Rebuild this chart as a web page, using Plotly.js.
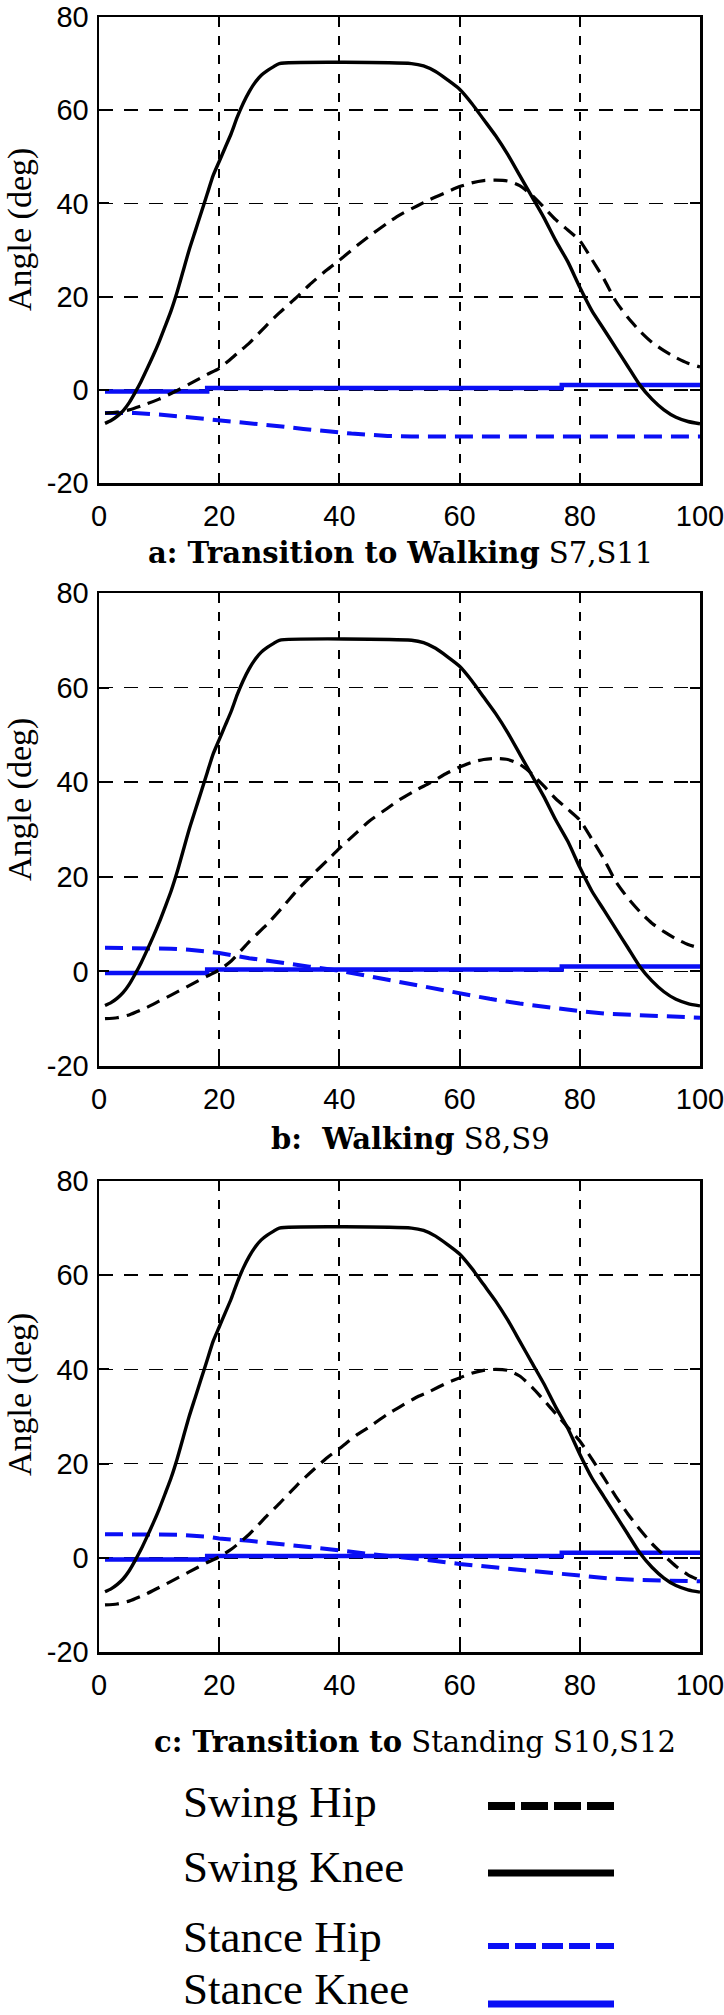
<!DOCTYPE html>
<html>
<head>
<meta charset="utf-8">
<script src="https://cdn.plot.ly/plotly-3.0.1.min.js"></script>
<style>
  html, body { margin: 0; padding: 0; background: #ffffff; }
  #chart { width: 724px; height: 2015px; }
</style>
</head>
<body>
<div id="chart"></div>
<script>
// ---------------- DATA ----------------
// x axis: percent of step (0-100); y axis: joint angle in degrees
const xTicks = [0, 20, 40, 60, 80, 100];
const yTicks = [-20, 0, 20, 40, 60, 80];
const seriesNames = ["Swing Hip", "Swing Knee", "Stance Hip", "Stance Knee"];
const panelTitles = [
  "<b>a: Transition to Walking</b> S7,S11",
  "<b>b:  Walking</b> S8,S9",
  "<b>c: Transition to</b> Standing S10,S12"
];
const yAxisTitle = "Angle (deg)";

// Swing knee (same profile in the three panels)
const kneeX = [1,2,3,4,5,6,7,8,9,10,11,12,13,14,15,16,17,18,19,20,21,22,23,24,25,26,27,28,29,30,
               52,54,56,58,60,62,64,66,68,70,72,74,76,78,80,82,84,86,88,90,92,94,96,98,100];
const kneeY = [-7.2,-6.6,-5.7,-4.5,-2.8,-0.6,1.8,4.5,7.3,10.3,13.6,17,21,25.5,30,34,38,42,46,49,
               52,55,58.5,61.5,64,66,67.5,68.5,69.3,70,
               70,69.5,68.3,66.5,64.5,61.5,58,54.5,50.5,46,41.5,37,32,27.5,22,17,13,9,5,1,-2,-4.3,-5.9,-6.8,-7.3];

// Stance knee (same in the three panels, stepwise)
const stKneeX = [1, 18, 77, 100];
const stKneeY = [-0.35, 0.4, 1.05, 1.05];

// Panel a: Transition to Walking
const hipAX = [1,3,5,8,10,12,15,18,20,23,25,28,30,33,35,38,40,43,45,48,50,53,55,58,60,62,64,66,68,70,
               72,74,76,78,80,82,84,86,88,90,92,94,96,98,100];
const hipAY = [-5,-4.8,-4.3,-3,-2,-0.8,1.2,3.3,4.6,7.8,10,14,16.5,20,22.5,25.8,27.8,31,33,35.8,37.5,39.5,40.8,42.5,43.6,44.4,44.9,45,44.8,43.8,
               41.8,39.2,36.5,34.3,32,28,23.8,19,15.5,12.6,10.2,8.4,6.9,5.7,4.9];
const stHipAX = [1,6,10,14,18,22,27,30,34,38,42,48,52,100];
const stHipAY = [-5,-5,-5.3,-5.8,-6.3,-6.7,-7.3,-7.8,-8.4,-9,-9.4,-9.9,-10,-10];

// Panel b: Walking
const hipBX = [1,3,5,8,10,12,15,18,20,22,25,28,30,33,35,38,40,43,45,48,50,53,55,58,60,62,64,66,68,70,
               72,74,76,78,80,82,84,86,88,90,92,94,96,98,100];
const hipBY = [-10,-9.8,-9.2,-7.6,-6.3,-5,-3,-1,0.3,2.2,6.3,10,12.8,17.2,19.8,23.5,26,29.5,31.8,34.5,36.3,38.5,39.8,42,43.2,44.2,44.8,45,44.8,43.8,
               41.8,39.2,36.5,34.3,32,28,23.8,19,15.5,12.6,10.2,8.4,6.9,5.7,4.9];
const stHipBX = [1,5,8,12,15,18,20,25,30,35,40,45,50,55,60,65,70,75,80,85,90,95,100];
const stHipBY = [5,5,5,4.8,4.6,4.2,3.9,2.8,1.8,1,0.15,-1.05,-2.3,-3.5,-4.6,-5.8,-6.8,-7.7,-8.4,-9,-9.3,-9.7,-9.8];

// Panel c: Transition to Standing
const hipCX = [1,3,5,8,10,12,15,18,20,22,25,28,30,33,35,38,40,43,45,48,50,53,55,58,60,62,64,66,68,70,
               72,74,76,78,80,82,84,86,88,90,92,94,96,98,100];
const hipCY = [-10,-9.8,-9.2,-7.6,-6.3,-5,-3,-1,0.2,1.8,5,9,11.5,15.5,17.9,21.3,23.2,26.2,27.8,30.5,32,34.2,35.3,37.2,38.2,39.2,39.8,40,39.8,38.6,
               36.3,33.5,30.6,27.7,24.8,21,17,13,9.3,6,3,0.5,-1.8,-3.6,-4.8];
const stHipCX = [1,5,10,13,18,20,25,30,35,40,45,50,55,60,65,70,75,80,85,90,95,100];
const stHipCY = [5,5,5,4.9,4.5,4.1,3.6,3,2.3,1.6,0.8,0.2,-0.5,-1.3,-1.9,-2.5,-3,-3.7,-4.4,-4.7,-4.9,-5];

// ---------------- STYLE ----------------
const W = 724, H = 2015;
const BLACK = "#000000", BLUE = "#0a0ff5";
const seriesColor = [BLACK, BLACK, BLUE, BLUE];
const seriesDash  = ["14px,8px", "solid", "18px,9px", "solid"];
const seriesWidth = [3.2, 3.4, 4, 4.5];
const legendDash  = ["27px,6px", "solid", "21px,6px", "solid"];
const legendWidth = [8, 7, 6, 7];

const fx = p => p / W;          // pixel -> paper x
const fy = p => 1 - p / H;      // pixel -> paper y

// panel frames in page pixels: [top, bottom]
const panelPix = [[17, 483], [593, 1066], [1181, 1652]];
const plotLeft = 99, plotRight = 700;

const panels = [
  {hipX: hipAX, hipY: hipAY, stHipX: stHipAX, stHipY: stHipAY},
  {hipX: hipBX, hipY: hipBY, stHipX: stHipBX, stHipY: stHipBY},
  {hipX: hipCX, hipY: hipCY, stHipX: stHipCX, stHipY: stHipCY}
];

const traces = [];
panels.forEach((p, i) => {
  const xa = i === 0 ? "x" : "x" + (i + 1);
  const ya = i === 0 ? "y" : "y" + (i + 1);
  const mk = (k, x, y, shape) => ({
    type: "scatter", mode: "lines", x: x, y: y, xaxis: xa, yaxis: ya,
    name: seriesNames[k], showlegend: false, hoverinfo: "skip",
    line: {color: seriesColor[k], width: seriesWidth[k], dash: seriesDash[k], shape: shape || "spline", smoothing: 0.6}
  });
  // blue drawn first, black on top
  traces.push(mk(2, p.stHipX, p.stHipY, "linear"));
  traces.push(mk(3, stKneeX, stKneeY, "hv"));
  traces.push(mk(0, p.hipX, p.hipY));
  traces.push(mk(1, kneeX, kneeY));
});

const tickFont = {family: "Liberation Sans, Arial, sans-serif", size: 29, color: BLACK};
const common = {
  showgrid: true, gridcolor: BLACK, gridwidth: 1.8,
  zeroline: false, showline: true, linecolor: BLACK, linewidth: 2.5, mirror: "ticks",
  ticks: "inside", ticklen: 10, tickwidth: 2, tickcolor: BLACK,
  tickfont: tickFont, fixedrange: true, ticklabeloverflow: "allow"
};

const layout = {
  width: W, height: H,
  margin: {l: 0, r: 0, t: 0, b: 0, pad: 0},
  paper_bgcolor: "#ffffff", plot_bgcolor: "#ffffff",
  showlegend: false,
  annotations: [], shapes: []
};

panelPix.forEach((pp, i) => {
  const sx = i === 0 ? "" : String(i + 1);
  layout["xaxis" + sx] = Object.assign({}, common, {
    domain: [fx(plotLeft), fx(plotRight)], range: [0, 100],
    tickvals: xTicks, ticktext: xTicks.map(String),
    griddash: "9px,10px", anchor: "y" + sx, ticklabelstandoff: 6
  });
  layout["yaxis" + sx] = Object.assign({}, common, {
    domain: [fy(pp[1]), fy(pp[0])], range: [-20, 80],
    tickvals: yTicks, ticktext: yTicks.map(String),
    griddash: "14px,11px", anchor: "x" + sx, ticklabelstandoff: 2
  });
});

// y-axis titles
const yTitleCenters = [230, 800, 1395];
yTitleCenters.forEach(c => {
  layout.annotations.push({
    xref: "paper", yref: "paper", x: fx(20), y: fy(c), xanchor: "center", yanchor: "middle",
    text: yAxisTitle, textangle: -90, showarrow: false,
    font: {family: "Liberation Serif, Times New Roman, serif", size: 34, color: BLACK}
  });
});

// panel captions
const captionPos = [[400, 553], [410, 1139], [415, 1742]];
captionPos.forEach((c, i) => {
  layout.annotations.push({
    xref: "paper", yref: "paper", x: fx(c[0]), y: fy(c[1]), xanchor: "center", yanchor: "middle",
    text: panelTitles[i], showarrow: false,
    font: {family: "DejaVu Serif, serif", size: 29, color: BLACK}
  });
});

// legend (text at left, line sample at right)
const legendTextY = [1802, 1867, 1937, 1989];
const legendLineY = [1806, 1873, 1946, 2004];
seriesNames.forEach((n, k) => {
  layout.annotations.push({
    xref: "paper", yref: "paper", x: fx(181), y: fy(legendTextY[k]), xanchor: "left", yanchor: "middle",
    text: n, showarrow: false,
    font: {family: "Liberation Serif, Times New Roman, serif", size: 45, color: BLACK}
  });
  layout.shapes.push({
    type: "line", xref: "paper", yref: "paper",
    x0: fx(488), x1: fx(614), y0: fy(legendLineY[k]), y1: fy(legendLineY[k]),
    line: {color: seriesColor[k], width: legendWidth[k], dash: legendDash[k]}
  });
});

Plotly.newPlot("chart", traces, layout, {displayModeBar: false, staticPlot: true});
</script>
</body>
</html>
